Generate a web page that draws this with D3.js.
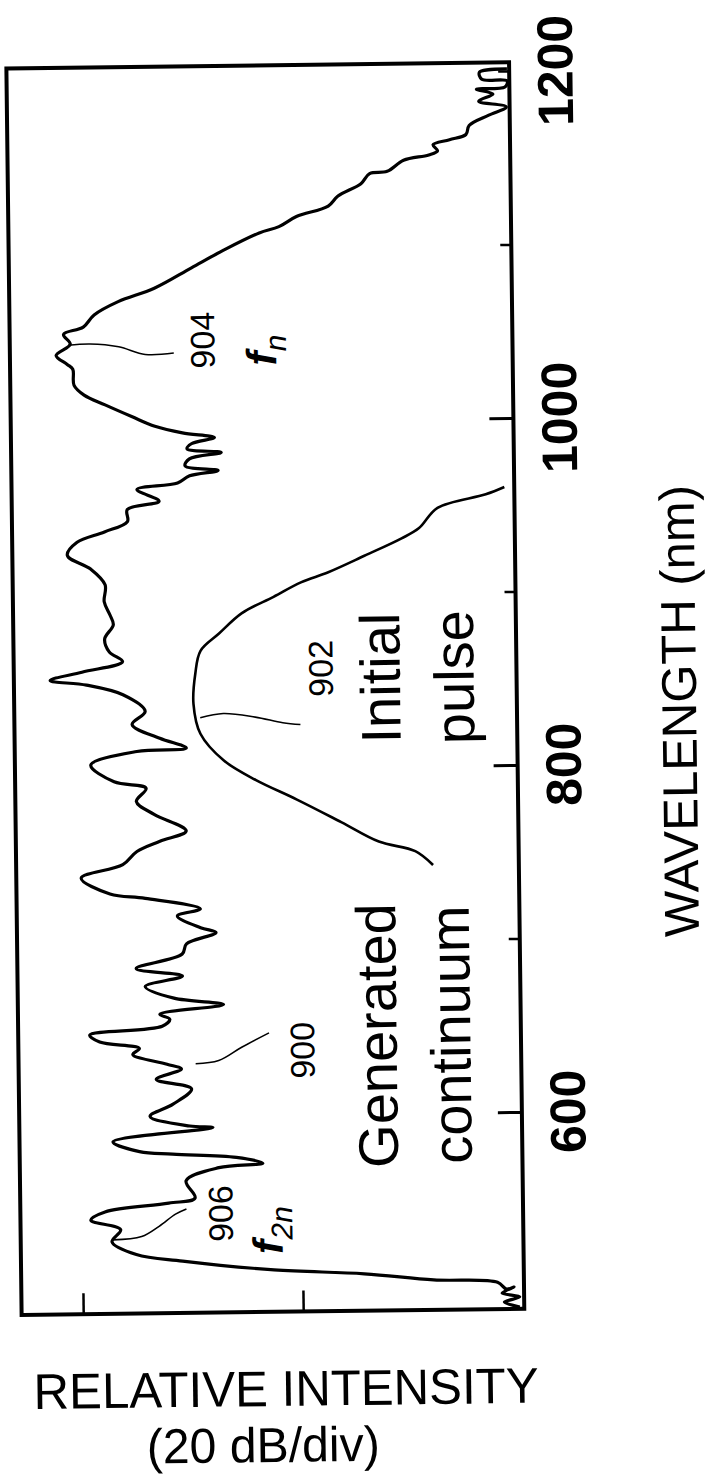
<!DOCTYPE html>
<html>
<head>
<meta charset="utf-8">
<script src="https://cdn.jsdelivr.net/npm/d3@7"></script>
<style>
  body { margin: 0; background: #fff; }
  svg { display: block; }
  text { font-family: "Liberation Sans", Arial, sans-serif; fill: #000; }
</style>
</head>
<body>
<svg id="chart" width="711" height="1477"></svg>
<script>
// values: wavelength (nm) and relative intensity (dB)
const continuumWl = [1201.2,1199.5,1195.4,1194.3,1190.8,1189.7,1186.8,1182.8,1179.3,1174.7,
  1168.9,1163.7,1160.8,1158.0,1154.5,1152.2,1149.3,1143.0,1141.8,1136.1,
  1129.1,1123.4,1117.6,1111.9,1108.4,1098.6,1088.8,1077.3,1069.8,1062.3,
  1055.4,1051.3,1045.6,1039.2,1034.0,1031.2,1021.9,1016.2,1010.4,1003.5,
  997.7,993.7,990.8,987.4,984.5,982.2,978.7,974.7,971.8,968.9,
  964.9,961.4,954.5,949.9,943.0,937.2,931.4,923.9,915.9,906.7,
  896.9,889.4,883.6,875.5,868.0,862.3,856.5,851.9,849.0,843.2,
  833.5,826.0,817.9,812.1,810.4,802.9,793.1,789.1,781.6,774.1,
  764.3,758.5,752.8,745.3,737.8,728.5,725.7,719.3,715.3,708.4,
  705.5,699.2,693.4,685.3,680.7,674.9,668.0,664.0,658.8,655.9,
  651.9,647.3,643.2,639.2,635.8,630.0,627.1,621.3,615.6,606.9,
  600.0,594.2,593.1,585.6,579.8,578.1,575.8,572.3,570.0,562.6,
  552.7,549.9,545.3,540.6,534.9,528.0,520.5,516.4,510.7,507.8,
  503.8,502.0,498.0,499.1,495.7,493.4,490.5,487.6];
const continuumDb = [-39.9,-37.4,-37.6,-39.9,-39.7,-37.1,-38.6,-37.3,-39.8,-38.2,
  -36.4,-36.1,-34.6,-33.1,-33.5,-32.7,-30.4,-28.9,-27.3,-26.5,
  -24.4,-23.5,-20.6,-19.0,-17.2,-13.9,-11.0,-7.6,-4.3,-2.1,
  -1.1,0.7,0.1,1.4,0.4,-0.1,-0.2,-1.1,-3.0,-5.4,
  -7.5,-10.0,-12.9,-10.8,-10.4,-13.5,-10.6,-10.2,-13.2,-10.6,
  -9.5,-5.8,-7.8,-4.9,-4.9,-2.8,-0.3,0.6,-1.5,-2.8,
  -2.7,-3.2,-3.5,-2.7,-3.1,-4.3,-0.6,2.3,-1.0,-4.3,
  -6.3,-5.1,-7.6,-10.0,-5.5,-1.3,-3.4,-6.3,-5.4,-7.0,
  -9.9,-7.5,-5.4,-4.1,-0.3,-2.9,-6.1,-11.1,-9.0,-11.1,
  -12.5,-9.8,-9.4,-5.2,-9.4,-6.0,-8.6,-13.1,-7.3,-8.2,
  -7.5,-0.9,-1.8,-5.4,-4.8,-7.9,-9.2,-6.9,-10.1,-8.4,
  -6.3,-9.9,-12.0,-2.9,-5.3,-8.3,-14.1,-16.5,-12.5,-9.5,
  -10.3,-7.9,-2.1,-0.8,-3.5,-2.7,-4.9,-9.1,-17.4,-25.6,
  -31.9,-37.7,-38.5,-39.2,-38.1,-39.7,-38.3,-39.7];

const pulseWl = [960.3,956.2,948.7,937.2,931.4,921.6,912.4,906.7,898.6,889.4,877.8,
  868.0,854.8,837.5,820.2,804.6,793.1,781.6,768.3,756.8,751.0,742.9];
const pulseDb = [-39.2,-37.5,-33.1,-31.4,-29.8,-26.4,-23.1,-20.6,-18.1,-15.2,-13.1,
  -11.4,-10.9,-10.7,-11.3,-13.4,-16.3,-20.0,-24.0,-27.4,-30.7,-32.3];

// reference-numeral leader lines
const lead900Wl = [630.0,631.7,639.2,647.3];
const lead900Db = [-10.5,-12.6,-14.7,-17.2];
const lead902Wl = [829.4,831.7,829.4,826.0,824.8];
const lead902Db = [-11.3,-13.4,-16.3,-18.8,-20.4];
const lead904Wl = [1045.0,1045.6,1043.8,1039.2,1039.8];
const lead904Db = [0.3,-1.7,-4.3,-6.7,-9.3];
const lead906Wl = [529.1,530.8,536.6,543.5,546.4];
const lead906Db = [-2.8,-5.4,-7.0,-8.5,-9.5];

const wlMajor = [600, 800, 1000, 1200];
const wlMinor = [700, 900, 1100];
const wlLabels = ["600", "800", "1000", "1200"];
const dbTicks = [0, -20];
const wlExtent = [486.5, 1205];
const dbExtent = [5.6, -40.1];

const svg = d3.select("#chart");
// the scanned figure is slightly tilted
const g = svg.append("g").attr("transform", "rotate(-0.7 265 690)");

const y = d3.scaleLinear().domain([600, 1200]).range([1115, 74]);
const x = d3.scaleLinear().domain([0, -20]).range([75.6, 295.6]);

const boxLeft = x(dbExtent[0]), boxRight = x(dbExtent[1]);
const boxTop = y(wlExtent[1]), boxBottom = y(wlExtent[0]);

// ticks on right edge (wavelength)
g.append("g")
    .attr("transform", `translate(${boxRight},0)`)
    .call(d3.axisLeft(y).tickValues(wlMajor.slice(0, 3)).tickSize(24).tickFormat(""))
    .call((a) => a.select(".domain").remove())
    .selectAll("line").attr("stroke", "#000").attr("stroke-width", 3);
g.append("g")
    .attr("transform", `translate(${boxRight},0)`)
    .call(d3.axisLeft(y).tickValues(wlMinor.concat([1200])).tickSize(11).tickFormat(""))
    .call((a) => a.select(".domain").remove())
    .selectAll("line").attr("stroke", "#000").attr("stroke-width", 2.5);

// ticks on bottom edge (intensity)
g.append("g")
    .attr("transform", `translate(0,${boxBottom})`)
    .call(d3.axisTop(x).tickValues(dbTicks).tickSize(21).tickFormat(""))
    .call((a) => a.select(".domain").remove())
    .selectAll("line").attr("stroke", "#000").attr("stroke-width", 2.5);

g.append("rect")
    .attr("x", boxLeft).attr("y", boxTop)
    .attr("width", boxRight - boxLeft).attr("height", boxBottom - boxTop)
    .attr("fill", "none").attr("stroke", "#000").attr("stroke-width", 4);

const line = d3.line()
    .x((d) => x(d[1]))
    .y((d) => y(d[0]))
    .curve(d3.curveCatmullRom.alpha(0.5));

g.append("path")
    .datum(d3.zip(continuumWl, continuumDb))
    .attr("d", line)
    .attr("fill", "none").attr("stroke", "#000").attr("stroke-width", 3.2)
    .attr("stroke-linejoin", "round");

g.append("path")
    .datum(d3.zip(pulseWl, pulseDb))
    .attr("d", line)
    .attr("fill", "none").attr("stroke", "#000").attr("stroke-width", 2.6)
    .attr("stroke-linejoin", "round");

[[lead900Wl, lead900Db], [lead902Wl, lead902Db], [lead904Wl, lead904Db], [lead906Wl, lead906Db]]
    .forEach(([w, d]) => {
        g.append("path")
            .datum(d3.zip(w, d))
            .attr("d", line)
            .attr("fill", "none").attr("stroke", "#000").attr("stroke-width", 1.6);
    });

// rotated text helper: baseline at bx, centred on cy
function vtext(bx, cy, str, size, weight) {
    return g.append("text")
        .attr("transform", `translate(${bx},${cy}) rotate(-90)`)
        .attr("text-anchor", "middle")
        .attr("font-size", size)
        .attr("font-weight", weight || "normal")
        .text(str);
}

// wavelength tick labels
wlMajor.forEach((w, i) => vtext(580, y(w), wlLabels[i], 50, "bold"));

vtext(696, 716, "WAVELENGTH (nm)", 49);

// annotations
vtext(x(-29.5), y(851), "Initial", 56);
vtext(x(-36.2), y(851), "pulse", 56);
vtext(x(-28.8), y(645), "Generated", 56);
vtext(x(-35.5), y(645), "continuum", 56);

vtext(x(-13.0), y(1047), "904", 34);
vtext(x(-23.4), y(857), "902", 34);
vtext(x(-21.3), y(637), "900", 34);
vtext(x(-13.7), y(543.5), "906", 34);

function fLabel(bx, by, sub) {
    const t = g.append("text")
        .attr("transform", `translate(${bx},${by}) rotate(-90)`)
        .attr("font-family", "'Liberation Serif', 'DejaVu Serif', serif")
        .attr("font-style", "italic");
    t.append("tspan").attr("font-size", 42).attr("font-weight", "bold").text("f");
    t.append("tspan").attr("font-size", 30).attr("dy", 10).text(sub);
}
fLabel(x(-18.6), y(1032), "n");
fLabel(x(-18.2), y(520), "2n");

// intensity axis title
g.append("text")
    .attr("x", 25).attr("y", 1406)
    .attr("font-size", 50)
    .attr("textLength", 505).attr("lengthAdjust", "spacingAndGlyphs")
    .text("RELATIVE INTENSITY");
g.append("text")
    .attr("x", 254).attr("y", 1462)
    .attr("text-anchor", "middle")
    .attr("font-size", 49)
    .attr("textLength", 233).attr("lengthAdjust", "spacingAndGlyphs")
    .text("(20 dB/div)");
</script>
</body>
</html>
